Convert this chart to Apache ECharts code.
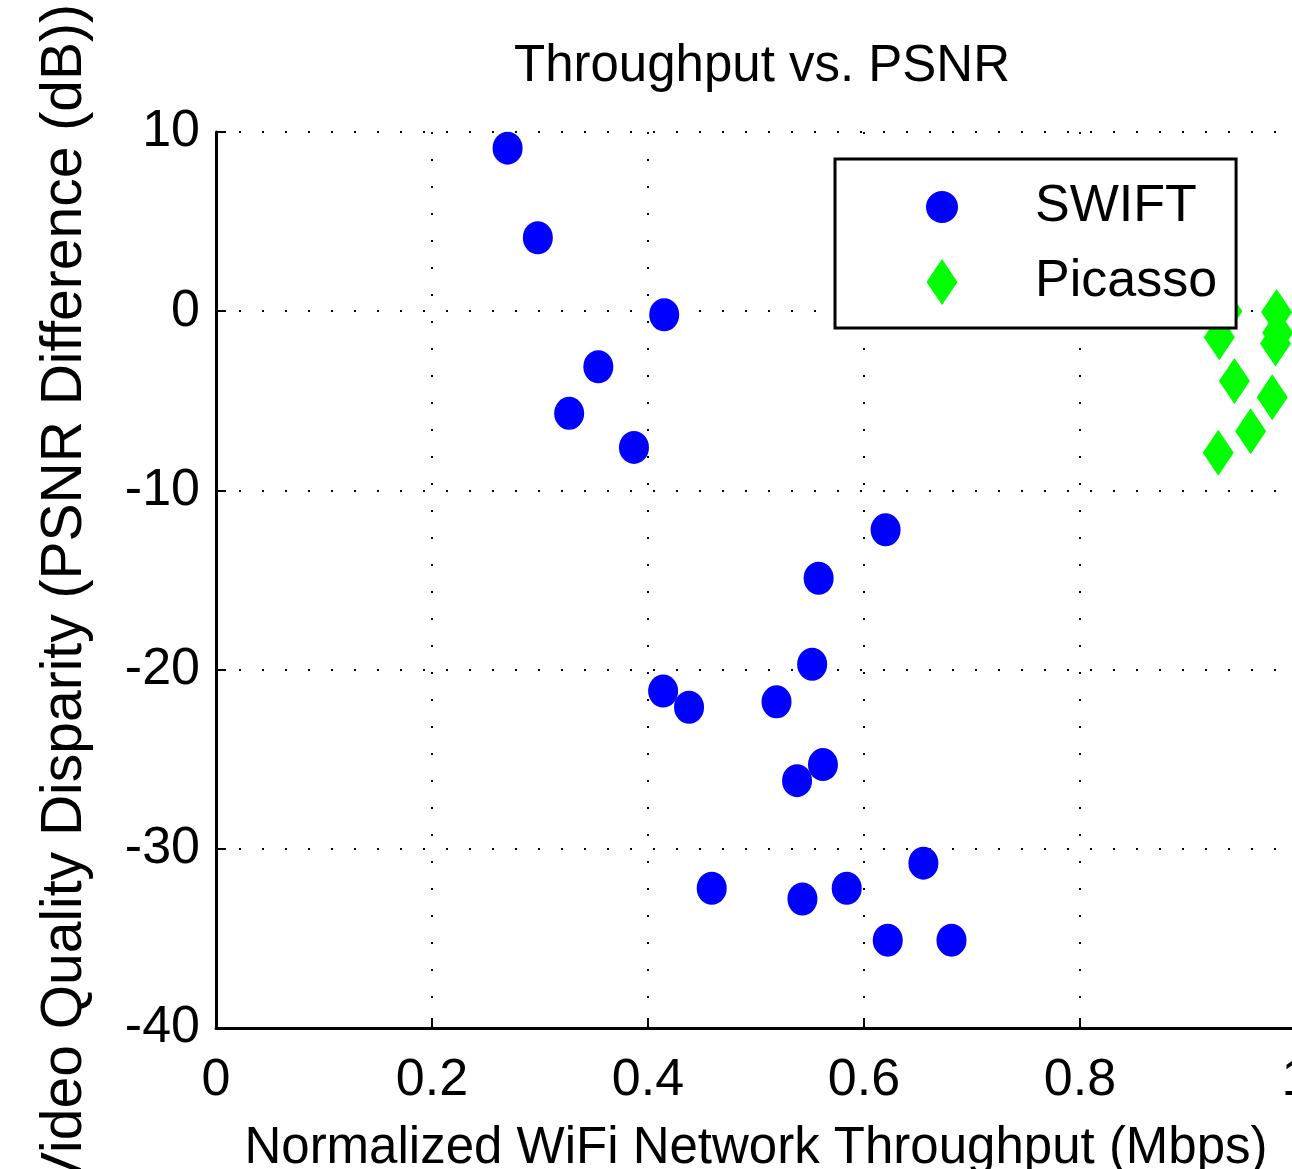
<!DOCTYPE html>
<html>
<head>
<meta charset="utf-8">
<script src="https://cdn.jsdelivr.net/npm/echarts@6/dist/echarts.min.js"></script>
<style>
  html, body { margin: 0; padding: 0; background: #fff; }
  #chart { width: 1292px; height: 1169px; }
</style>
</head>
<body>
<div id="chart"></div>
<script>
let chart = echarts.init(document.getElementById("chart"));

// throughput (x) and PSNR difference (y)
let swiftX = [0.270, 0.298, 0.415, 0.354, 0.327, 0.387, 0.620, 0.558, 0.552, 0.414,
              0.438, 0.519, 0.562, 0.538, 0.655, 0.459, 0.584, 0.543, 0.622, 0.681];
let swiftY = [9.1, 4.1, -0.2, -3.1, -5.7, -7.6, -12.2, -14.9, -19.7, -21.2,
              -22.1, -21.8, -25.3, -26.2, -30.8, -32.2, -32.2, -32.8, -35.1, -35.1];

let picassoX = [0.936, 0.929, 0.943, 0.978, 0.958, 0.928, 0.982, 0.981, 0.983];
let picassoY = [0.0, -1.45, -3.9, -4.8, -6.7, -7.9, -0.05, -1.8, -1.2];

let xTicks = [0, 0.2, 0.4, 0.6, 0.8, 1];
let yTicks = [-40, -30, -20, -10, 0, 10];

let font = '"Liberation Sans", Arial, Helvetica, sans-serif';

function pairs(xs, ys) {
    return xs.map((x, i) => [x, ys[i]]);
}

let dotted = (gap) => ({ color: '#000', width: 2, type: [2, gap] });

let option = {
    animation: false,
    backgroundColor: '#fff',
    title: {
        text: 'Throughput vs. PSNR',
        left: 757,
        top: 36,
        textAlign: 'center',
        textStyle: { fontFamily: font, fontSize: 51, fontWeight: 'normal', color: '#000' }
    },
    grid: {
        left: 216,
        top: 132,
        width: 1080,
        height: 896,
        outerBoundsMode: 'none',
        containLabel: false
    },
    legend: {
        orient: 'vertical',
        left: 835,
        top: 159,
        padding: [22, 19, 20, 91],
        itemWidth: 32,
        itemHeight: 46,
        itemGap: 23,
        backgroundColor: '#fff',
        borderColor: '#000',
        borderWidth: 3,
        borderRadius: 0,
        textStyle: { fontFamily: font, fontSize: 52, color: '#000', padding: [0, 0, 0, 72] },
        data: [
            { name: 'SWIFT', icon: 'circle' },
            { name: 'Picasso', icon: 'path://M0,-23L15.5,0L0,23L-15.5,0Z' }
        ]
    },
    xAxis: {
        type: 'value',
        min: xTicks[0],
        max: xTicks[xTicks.length - 1],
        interval: 0.2,
        name: 'Normalized WiFi Network Throughput (Mbps)',
        nameLocation: 'middle',
        nameGap: 95,
        nameTextStyle: { fontFamily: font, fontSize: 51, color: '#000' },
        axisLine: { onZero: false, lineStyle: { color: '#000', width: 3 } },
        axisTick: { inside: true, length: 10, lineStyle: { color: '#000', width: 2 } },
        axisLabel: { fontFamily: font, fontSize: 52, color: '#000', margin: 27 },
        splitLine: { show: true, lineStyle: dotted(25) }
    },
    yAxis: {
        type: 'value',
        min: yTicks[0],
        max: yTicks[yTicks.length - 1],
        interval: 10,
        name: 'Video Quality Disparity (PSNR Difference (dB))',
        nameLocation: 'middle',
        nameGap: 122,
        nameTextStyle: { fontFamily: font, fontSize: 57, color: '#000', padding: [0, 34, 0, 0] },
        axisLine: { onZero: false, lineStyle: { color: '#000', width: 3 } },
        axisTick: { inside: true, length: 10, lineStyle: { color: '#000', width: 2 } },
        axisLabel: { fontFamily: font, fontSize: 52, color: '#000', margin: 16 },
        splitLine: { show: true, lineStyle: dotted(21) }
    },
    series: [
        {
            name: 'SWIFT',
            type: 'scatter',
            symbol: 'circle',
            symbolSize: [30, 33],
            itemStyle: { color: '#0000ff', opacity: 1 },
            data: pairs(swiftX, swiftY)
        },
        {
            name: 'Picasso',
            type: 'scatter',
            symbol: 'diamond',
            symbolSize: [31, 46],
            itemStyle: { color: '#00ff00', opacity: 1 },
            data: pairs(picassoX, picassoY)
        }
    ]
};

chart.setOption(option);
</script>
</body>
</html>
